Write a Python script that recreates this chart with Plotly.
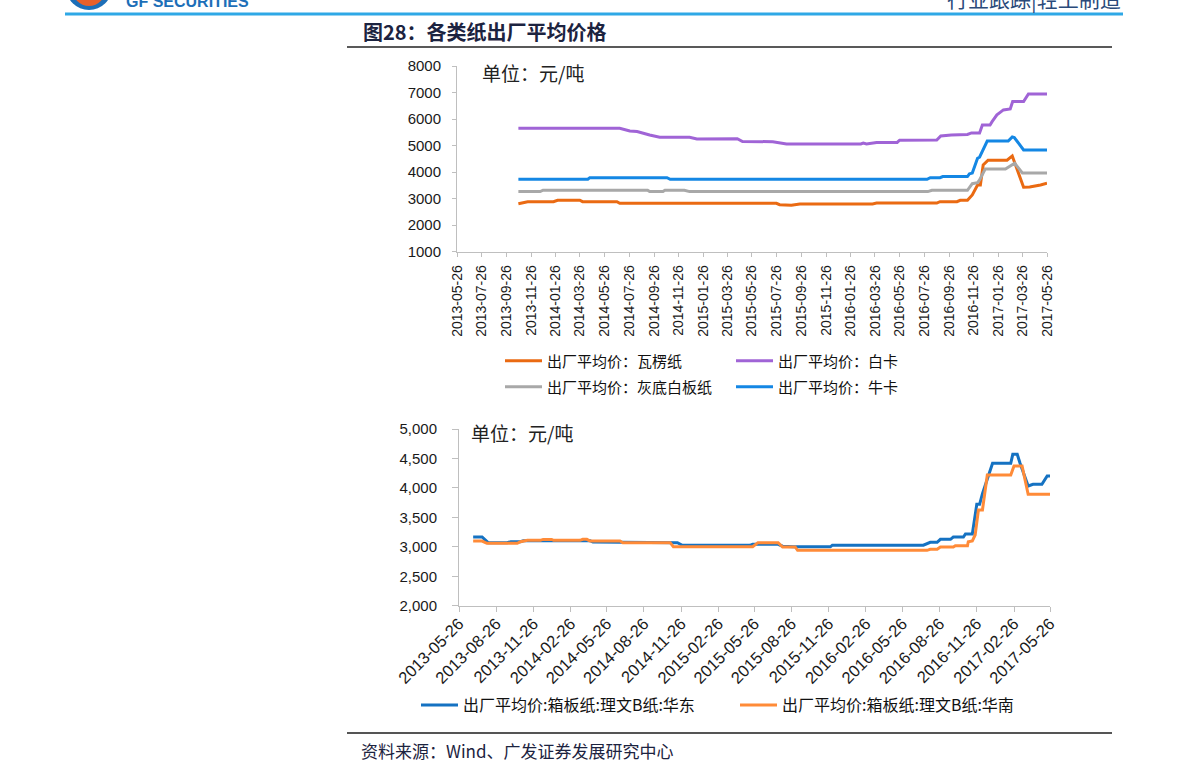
import plotly.graph_objects as go

W, H = 1191, 780

# ---------------- top chart data ----------------
top_ticks = ["2013-05-26", "2013-07-26", "2013-09-26", "2013-11-26", "2014-01-26", "2014-03-26",
             "2014-05-26", "2014-07-26", "2014-09-26", "2014-11-26", "2015-01-26", "2015-03-26",
             "2015-05-26", "2015-07-26", "2015-09-26", "2015-11-26", "2016-01-26", "2016-03-26",
             "2016-05-26", "2016-07-26", "2016-09-26", "2016-11-26", "2017-01-26", "2017-03-26",
             "2017-05-26"]

wl_dates = ["2013-10-25", "2013-11-17", "2014-01-20", "2014-01-30", "2014-03-26", "2014-04-02",
            "2014-06-26", "2014-07-03", "2015-07-26", "2015-08-03", "2015-09-01", "2015-09-15",
            "2015-09-22", "2016-03-20", "2016-03-30", "2016-08-26", "2016-09-03", "2016-10-15",
            "2016-10-23", "2016-11-10", "2016-11-22", "2016-12-05", "2016-12-12", "2016-12-19",
            "2016-12-31", "2017-02-16", "2017-03-01", "2017-03-29", "2017-04-13", "2017-05-10",
            "2017-05-26"]
wl_vals = [2808, 2883, 2883, 2936, 2936, 2883,
           2883, 2823, 2823, 2770, 2745, 2760,
           2796, 2796, 2830, 2830, 2883, 2883,
           2936, 2936, 3136, 3513, 3513, 4268,
           4445, 4445, 4608, 3426, 3440, 3513,
           3577]

bk_dates = ["2013-10-25", "2014-07-03", "2014-07-28", "2014-08-15", "2014-09-15", "2014-10-10",
            "2014-12-23", "2015-01-10", "2015-04-20", "2015-05-03", "2015-07-17", "2015-08-20",
            "2016-02-20", "2016-02-26", "2016-03-05", "2016-03-30", "2016-05-20", "2016-05-26",
            "2016-08-26", "2016-09-05", "2016-10-01", "2016-11-10", "2016-11-20", "2016-12-10",
            "2016-12-17", "2017-01-05", "2017-01-10", "2017-01-22", "2017-01-30", "2017-02-07",
            "2017-02-24", "2017-03-02", "2017-03-29", "2017-04-10", "2017-05-26"]
bk_vals = [5653, 5653, 5550, 5530, 5400, 5313,
           5313, 5250, 5260, 5150, 5147, 5060,
           5060, 5090, 5060, 5117, 5117, 5200,
           5211, 5362, 5400, 5420, 5475, 5475,
           5777, 5777, 5900, 6155, 6250, 6343,
           6380, 6657, 6657, 6947, 6947]

hd_dates = ["2013-10-25", "2013-12-18", "2013-12-25", "2014-09-10", "2014-09-15", "2014-10-18",
            "2014-10-23", "2014-12-10", "2014-12-23", "2016-08-04", "2016-08-14", "2016-11-10",
            "2016-11-22", "2016-12-05", "2016-12-10", "2016-12-24", "2017-02-12", "2017-03-07",
            "2017-03-26", "2017-05-26"]
hd_vals = [3262, 3262, 3313, 3313, 3262, 3262,
           3313, 3313, 3262, 3262, 3313, 3313,
           3562, 3600, 3700, 4117, 4117, 4332,
           3966, 3966]

nk_dates = ["2013-10-25", "2014-04-15", "2014-04-20", "2014-10-28", "2014-11-05", "2016-08-02",
            "2016-08-10", "2016-09-03", "2016-09-10", "2016-11-10", "2016-11-15", "2016-11-22",
            "2016-12-05", "2016-12-10", "2016-12-29", "2017-02-19", "2017-03-01", "2017-03-06",
            "2017-03-29", "2017-05-26"]
nk_vals = [3728, 3728, 3790, 3790, 3728, 3728,
           3790, 3790, 3830, 3830, 3930, 3960,
           4520, 4560, 5170, 5170, 5325, 5300,
           4834, 4834]

# ---------------- bottom chart data ----------------
bot_ticks = ["2013-05-26", "2013-08-26", "2013-11-26", "2014-02-26", "2014-05-26", "2014-08-26",
             "2014-11-26", "2015-02-26", "2015-05-26", "2015-08-26", "2015-11-26", "2016-02-26",
             "2016-05-26", "2016-08-26", "2016-11-26", "2017-02-26", "2017-05-26"]

hdong_dates = ["2013-06-30", "2013-07-22", "2013-08-06", "2013-09-22", "2013-10-01", "2013-10-25",
               "2013-11-01", "2014-04-15", "2014-04-22", "2014-06-28", "2014-07-05", "2014-11-17",
               "2014-11-29", "2015-05-15", "2015-05-22", "2015-07-24", "2015-08-04", "2015-08-30",
               "2015-11-30", "2015-12-05", "2016-07-17", "2016-08-03", "2016-08-20", "2016-08-28",
               "2016-09-22", "2016-09-29", "2016-10-24", "2016-10-29", "2016-11-15", "2016-11-26",
               "2016-12-03", "2016-12-10", "2017-01-04", "2017-02-18", "2017-02-23", "2017-03-06",
               "2017-03-13", "2017-04-02", "2017-04-14", "2017-05-06", "2017-05-19", "2017-05-26"]
hdong_vals = [3166, 3166, 3070, 3070, 3087, 3087,
              3103, 3103, 3081, 3081, 3070, 3070,
              3025, 3025, 3042, 3042, 3010, 3000,
              3000, 3028, 3028, 3076, 3076, 3127,
              3127, 3166, 3166, 3217, 3217, 3721,
              3721, 3900, 4418, 4418, 4570, 4570,
              4418, 4032, 4061, 4061, 4202, 4202]

hnan_dates = ["2013-06-30", "2013-07-22", "2013-08-03", "2013-10-17", "2013-10-25", "2013-11-11",
              "2013-12-13", "2013-12-20", "2014-01-10", "2014-01-15", "2014-03-21", "2014-03-28",
              "2014-04-07", "2014-04-15", "2014-06-28", "2014-07-05", "2014-10-30", "2014-11-07",
              "2015-05-22", "2015-06-04", "2015-07-24", "2015-08-04", "2015-09-04", "2015-09-10",
              "2016-07-26", "2016-08-03", "2016-08-20", "2016-08-28", "2016-09-29", "2016-10-04",
              "2016-11-03", "2016-11-05", "2016-11-15", "2016-11-22", "2016-11-30", "2016-12-10",
              "2016-12-22", "2017-02-18", "2017-02-26", "2017-03-18", "2017-04-02", "2017-05-26"]
hnan_vals = [3098, 3098, 3060, 3060, 3087, 3110,
             3110, 3125, 3125, 3110, 3110, 3127,
             3127, 3098, 3098, 3070, 3070, 3002,
             3002, 3070, 3070, 2997, 2997, 2940,
             2940, 2957, 2957, 2997, 2997, 3019,
             3019, 3087, 3100, 3200, 3625, 3625,
             4220, 4220, 4372, 4372, 3891, 3891]

top_names = ["出厂平均价：瓦楞纸", "出厂平均价：白卡", "出厂平均价：灰底白板纸", "出厂平均价：牛卡"]
bot_names = ["出厂平均价:箱板纸:理文B纸:华东", "出厂平均价:箱板纸:理文B纸:华南"]

C_OR, C_PU, C_GR, C_BL = "#EA6A12", "#A064D6", "#A8A8A8", "#1487E4"
C_BL2, C_OR2 = "#1572C2", "#FF8B38"


def px(x):
    return x / W


def py(y):
    return 1 - y / H


CJK = "Noto Sans CJK SC"
NUM = "Liberation Sans, Arial, sans-serif"

fig = go.Figure()

top_series = [(wl_dates, wl_vals, C_OR, "legend"), (bk_dates, bk_vals, C_PU, "legend2"),
              (hd_dates, hd_vals, C_GR, "legend3"), (nk_dates, nk_vals, C_BL, "legend4")]
for (d, v, c, lg), name in zip(top_series, top_names):
    fig.add_trace(go.Scatter(x=d, y=v, mode="lines", name=name, line=dict(color=c, width=3),
                             xaxis="x", yaxis="y", legend=lg))

bot_series = [(hdong_dates, hdong_vals, C_BL2, "legend5"), (hnan_dates, hnan_vals, C_OR2, "legend6")]
for (d, v, c, lg), name in zip(bot_series, bot_names):
    fig.add_trace(go.Scatter(x=d, y=v, mode="lines", name=name, line=dict(color=c, width=3),
                             xaxis="x2", yaxis="y2", legend=lg))

axis_common = dict(showline=True, linecolor="#BFBFBF", linewidth=1, showgrid=False, zeroline=False,
                   ticks="outside", tickcolor="#BFBFBF", fixedrange=True, automargin=False)

fig.update_layout(
    template="none",
    width=W, height=H, autosize=False,
    margin=dict(l=0, r=0, t=0, b=0, pad=0, autoexpand=False),
    paper_bgcolor="white", plot_bgcolor="white",
    font=dict(family=NUM, color="#1a1a1a"),
    xaxis=dict(domain=[px(457), px(1047)], anchor="y", type="date",
               range=["2013-05-26", "2017-05-26"], tickmode="array", tickvals=top_ticks,
               ticktext=top_ticks, tickangle=-90, ticklen=4, ticklabelstandoff=3,
               tickfont=dict(size=14, family=NUM, color="#1a1a1a"), **axis_common),
    yaxis=dict(domain=[py(251.6), py(66)], anchor="x", range=[1000, 8000], dtick=1000,
               tickformat="d", ticklen=4, ticklabelstandoff=8,
               tickfont=dict(size=15, family=NUM, color="#1a1a1a"), **axis_common),
    xaxis2=dict(domain=[px(459), px(1050)], anchor="y2", type="date",
                range=["2013-05-26", "2017-05-26"], tickmode="array", tickvals=bot_ticks,
                ticktext=bot_ticks, tickangle=-45, ticklen=5, ticklabelstandoff=-4,
                tickfont=dict(size=16.5, family=NUM, color="#1a1a1a"), **axis_common),
    yaxis2=dict(domain=[py(605.7), py(429)], anchor="x2", range=[2000, 5000], dtick=500,
                tickformat=",d", ticklen=6, ticklabelstandoff=12,
                tickfont=dict(size=15, family=NUM, color="#1a1a1a"), **axis_common),
    showlegend=True,
)

leg_pos = {"legend": (500, 361, 15), "legend2": (731, 361, 15), "legend3": (500, 387, 15),
           "legend4": (731, 387, 15), "legend5": (416, 705, 16), "legend6": (735, 705, 16)}
for k, (lx, ly, fs) in leg_pos.items():
    fig.update_layout({k: dict(x=px(lx), y=py(ly), xanchor="left", yanchor="middle",
                               bgcolor="rgba(0,0,0,0)", borderwidth=0, itemwidth=37,
                               font=dict(family=CJK, size=fs, color="#111111"),
                               orientation="h", itemclick=False, itemdoubleclick=False)})

shapes = [
    # header rule
    dict(type="line", xref="paper", yref="paper", x0=px(65), x1=px(1123), y0=py(14), y1=py(14),
         line=dict(color="#2EA8E6", width=3)),
    # title underline
    dict(type="line", xref="paper", yref="paper", x0=px(347), x1=px(1112), y0=py(47), y1=py(47),
         line=dict(color="#222222", width=1.5)),
    # footer rule
    dict(type="line", xref="paper", yref="paper", x0=px(347), x1=px(1112), y0=py(733), y1=py(733),
         line=dict(color="#555555", width=2)),
    # logo fragment
    dict(type="circle", xref="paper", yref="paper", x0=px(66), x1=px(112), y0=py(10), y1=py(-36),
         fillcolor="#1D6FB8", line=dict(width=0)),
    dict(type="circle", xref="paper", yref="paper", x0=px(72), x1=px(106), y0=py(6), y1=py(-30),
         fillcolor="#E8602A", line=dict(width=0)),
]
fig.update_layout(shapes=shapes)

annotations = [
    dict(text="<b>GF SECURITIES</b>", x=px(124), y=py(2), xanchor="left", yanchor="middle",
         font=dict(family=NUM, size=16, color="#1D6FB8")),
    dict(text="行业跟踪|轻工制造", x=px(1123), y=py(-2), xanchor="right", yanchor="middle",
         font=dict(family=CJK, size=21, color="#2A4A7A")),
    dict(text="<b>图28：各类纸出厂平均价格</b>", x=px(361), y=py(32), xanchor="left", yanchor="middle",
         font=dict(family=CJK, size=20, color="#1C2340")),
    dict(text="单位：元/吨", x=px(480), y=py(72), xanchor="left", yanchor="middle",
         font=dict(family=CJK, size=19, color="#222222")),
    dict(text="单位：元/吨", x=px(469), y=py(432), xanchor="left", yanchor="middle",
         font=dict(family=CJK, size=19, color="#222222")),
    dict(text="资料来源：Wind、广发证券发展研究中心", x=px(359), y=py(750), xanchor="left",
         yanchor="middle", font=dict(family=CJK, size=17, color="#1C2340")),
]
for a in annotations:
    a.update(xref="paper", yref="paper", showarrow=False)
fig.update_layout(annotations=annotations)

fig.write_html("out.html")
